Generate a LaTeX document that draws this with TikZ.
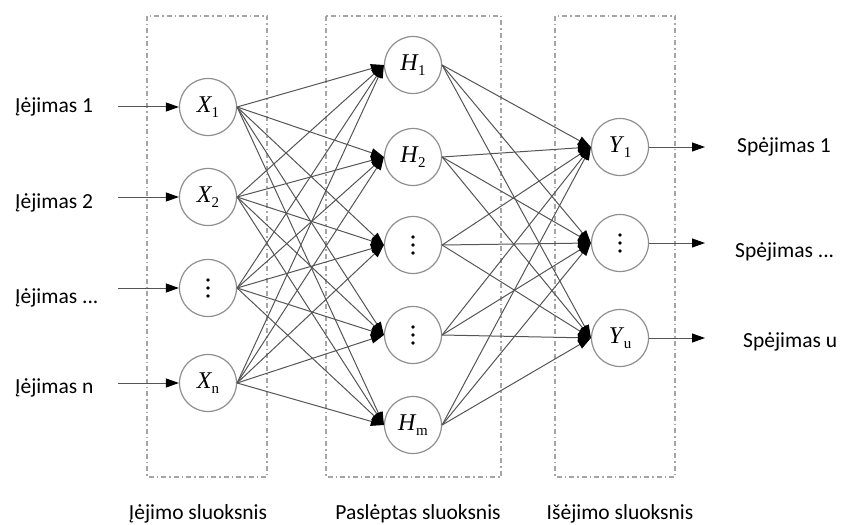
\documentclass[tikz,border=0pt]{standalone}
\usepackage{fontspec}
\setmainfont{Carlito}
\newfontfamily\neuronfont{Liberation Serif}
\usetikzlibrary{arrows.meta}

\definecolor{circgray}{HTML}{8F8F8F}
\definecolor{edgegray}{HTML}{555555}
\definecolor{boxgray}{HTML}{A5A5A5}

% neuron label: italic letter with upright subscript
\newcommand\nsub[2]{\textit{#1}\kern-0.5pt\raisebox{-0.22em}{\fontsize{15}{15}\selectfont #2}}

\tikzset{
  neuron/.style={circle, draw=circgray, line width=1.2pt, minimum size=57pt,
    inner sep=0pt, font=\neuronfont\fontsize{24}{24}\selectfont},
  dotneuron/.style={neuron, path picture={
    \fill[black] (path picture bounding box.center) circle (1.8pt)
      ++(0,8pt) circle (1.8pt) ++(0,-16pt) circle (1.8pt);}},
  layerbox/.style={draw=boxgray, line width=1.1pt,
    dash pattern=on 5pt off 3pt on 1.5pt off 3pt},
  conn/.style={draw=edgegray, line width=1pt,
    -{Triangle[length=13pt,width=9pt,color=black]}},
  iolabel/.style={inner sep=0pt, font=\fontsize{21.5}{24}\selectfont},
  layerlabel/.style={inner sep=0pt, anchor=base, font=\fontsize{21.5}{24}\selectfont}
}

\begin{document}
\begin{tikzpicture}[x=1pt,y=-1pt]
\useasboundingbox (0,0) rectangle (842,524);

% layer frames
\draw[layerbox] (147,16) rectangle (267,477);
\draw[layerbox] (326,16) rectangle (501,477);
\draw[layerbox] (555,16) rectangle (675,477);

% input layer
\node[neuron] (x1) at (208,107) {\nsub{X}{1}};
\node[neuron] (x2) at (208,197) {\nsub{X}{2}};
\node[dotneuron] (x3) at (208,288) {};
\node[neuron] (x4) at (208,383) {\nsub{X}{n}};

% hidden layer
\node[neuron] (h1) at (413,65) {\nsub{H}{1}};
\node[neuron] (h2) at (413,157) {\nsub{H}{2}};
\node[dotneuron] (h3) at (413,245) {};
\node[dotneuron] (h4) at (413,335) {};
\node[neuron] (h5) at (413,425) {\nsub{H}{m}};

% output layer
\node[neuron] (y1) at (620,147) {\nsub{Y}{1}};
\node[dotneuron] (y2) at (620,243) {};
\node[neuron] (y3) at (620,338) {\nsub{Y}{u}};

% input labels and arrows
\node[iolabel, anchor=base west] (in1) at (15,113) {Įėjimas 1};
\node[iolabel, anchor=base west] (in2) at (15,208) {Įėjimas 2};
\node[iolabel, anchor=base west] (in3) at (15,303) {Įėjimas ...};
\node[iolabel, anchor=base west] (in4) at (15,393) {Įėjimas n};
\foreach \i in {1,...,4} {
  \coordinate (s\i) at (118,0 |- x\i.west);
  \draw[conn] (s\i) -- (x\i.west);
}

% output labels and arrows
\node[iolabel, anchor=base west] (out1) at (737,152) {Spėjimas 1};
\node[iolabel, anchor=base west] (out2) at (735,257) {Spėjimas ...};
\node[iolabel, anchor=base west] (out3) at (743,347) {Spėjimas u};
\foreach \i in {1,...,3} {
  \coordinate (e\i) at (705,0 |- y\i.east);
  \draw[conn] (y\i.east) -- (e\i);
}

% full connections
\foreach \i in {1,...,4}
  \foreach \j in {1,...,5}
    \draw[conn] (x\i.east) -- (h\j.west);
\foreach \j in {1,...,5}
  \foreach \k in {1,...,3}
    \draw[conn] (h\j.east) -- (y\k.west);

% layer names
\node[layerlabel] (l1) at (198,519) {Įėjimo sluoksnis};
\node[layerlabel] (l2) at (418,519) {Paslėptas sluoksnis};
\node[layerlabel] (l3) at (620,519) {Išėjimo sluoksnis};
\end{tikzpicture}
\end{document}
